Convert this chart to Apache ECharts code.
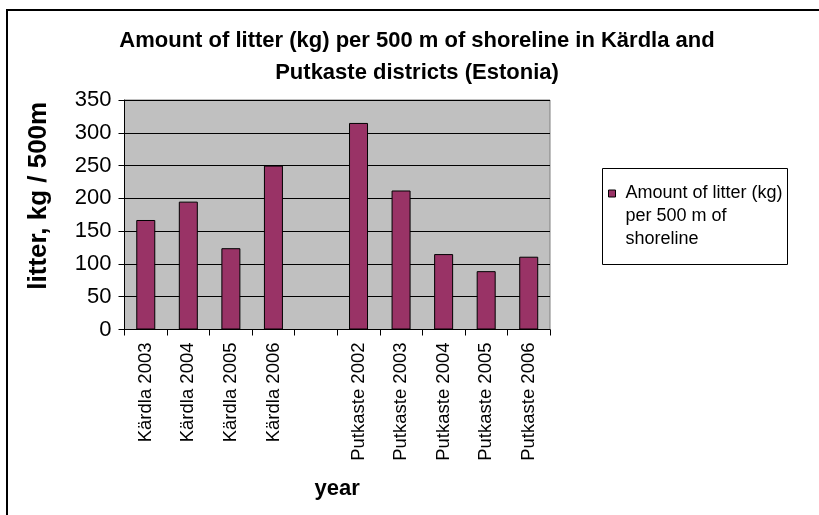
<!DOCTYPE html>
<html>
<head>
<meta charset="utf-8">
<script src="https://cdn.jsdelivr.net/npm/echarts@6/dist/echarts.min.js"></script>
<style>
html,body{margin:0;padding:0;background:#fff;}
#chart{width:819px;height:515px;}
</style>
</head>
<body>
<div id="chart"></div>
<script>
var titleText = 'Amount of litter (kg) per 500 m of shoreline in Kärdla and\nPutkaste districts (Estonia)';
var seriesName = 'Amount of litter (kg) per 500 m of shoreline';
var categories = ['Kärdla 2003', 'Kärdla 2004', 'Kärdla 2005', 'Kärdla 2006', '', 'Putkaste 2002', 'Putkaste 2003', 'Putkaste 2004', 'Putkaste 2005', 'Putkaste 2006'];
var litterValues = [167, 195, 124, 250, null, 315, 212, 115, 89, 111];
var yTicks = [0, 50, 100, 150, 200, 250, 300, 350];
var yAxisName = 'litter, kg / 500m';
var xAxisName = 'year';

var FONT = '"Liberation Sans", Arial, sans-serif';
var chart = echarts.init(document.getElementById('chart'), null, {renderer: 'canvas'});
chart.setOption({
  animation: false,
  backgroundColor: '#fff',
  graphic: [
    {type: 'rect', shape: {x: 7, y: 10, width: 900, height: 600}, style: {fill: 'none', stroke: '#000', lineWidth: 2}, z: 0},
    {type: 'rect', shape: {x: 602.5, y: 168.5, width: 185, height: 96}, style: {fill: '#fff', stroke: '#000', lineWidth: 1}, z: 1}
  ],
  title: {
    text: titleText,
    left: 417, top: 25, textAlign: 'center', padding: 0,
    textStyle: {fontFamily: FONT, fontSize: 22, fontWeight: 'bold', color: '#000', lineHeight: 32}
  },
  legend: {
    data: [seriesName],
    left: 608, top: 136, padding: 0,
    icon: 'rect', itemWidth: 7, itemHeight: 7,
    itemStyle: {borderColor: '#000', borderWidth: 1},
    formatter: function (n) { return '\n\n' + n.replace(' per', '\nper').replace(' shoreline', '\nshoreline'); },
    textStyle: {fontFamily: FONT, fontSize: 18, color: '#000', lineHeight: 23, padding: [0, 0, 0, 5]}
  },
  grid: {
    left: 124.5, top: 100, width: 425.5, height: 229.5,
    show: true, backgroundColor: '#C0C0C0', borderColor: '#808080', borderWidth: 1
  },
  xAxis: {
    type: 'category', data: categories,
    name: xAxisName, nameLocation: 'middle', nameGap: 148,
    nameTextStyle: {fontFamily: FONT, fontSize: 22, fontWeight: 'bold', color: '#000'},
    axisLine: {lineStyle: {color: '#000', width: 1}},
    axisTick: {show: true, length: 6, interval: 0, lineStyle: {color: '#000'}},
    axisLabel: {interval: 0, rotate: 90, margin: 13, fontFamily: FONT, fontSize: 18.5, color: '#000'}
  },
  yAxis: {
    type: 'value', min: yTicks[0], max: yTicks[yTicks.length - 1], interval: 50,
    name: yAxisName, nameLocation: 'middle', nameGap: 73,
    nameTextStyle: {fontFamily: FONT, fontSize: 26, fontWeight: 'bold', color: '#000', padding: [0, 0, 0, 38]},
    axisLine: {show: true, lineStyle: {color: '#000', width: 1}},
    axisTick: {show: true, length: 6, lineStyle: {color: '#000'}},
    axisLabel: {margin: 13, fontFamily: FONT, fontSize: 22, color: '#000'},
    splitLine: {show: true, lineStyle: {color: '#000', width: 1}}
  },
  series: [{
    name: seriesName, type: 'bar', data: litterValues, barWidth: 19,
    itemStyle: {color: '#993366', borderColor: '#000', borderWidth: 1}
  }]
});
</script>
</body>
</html>
